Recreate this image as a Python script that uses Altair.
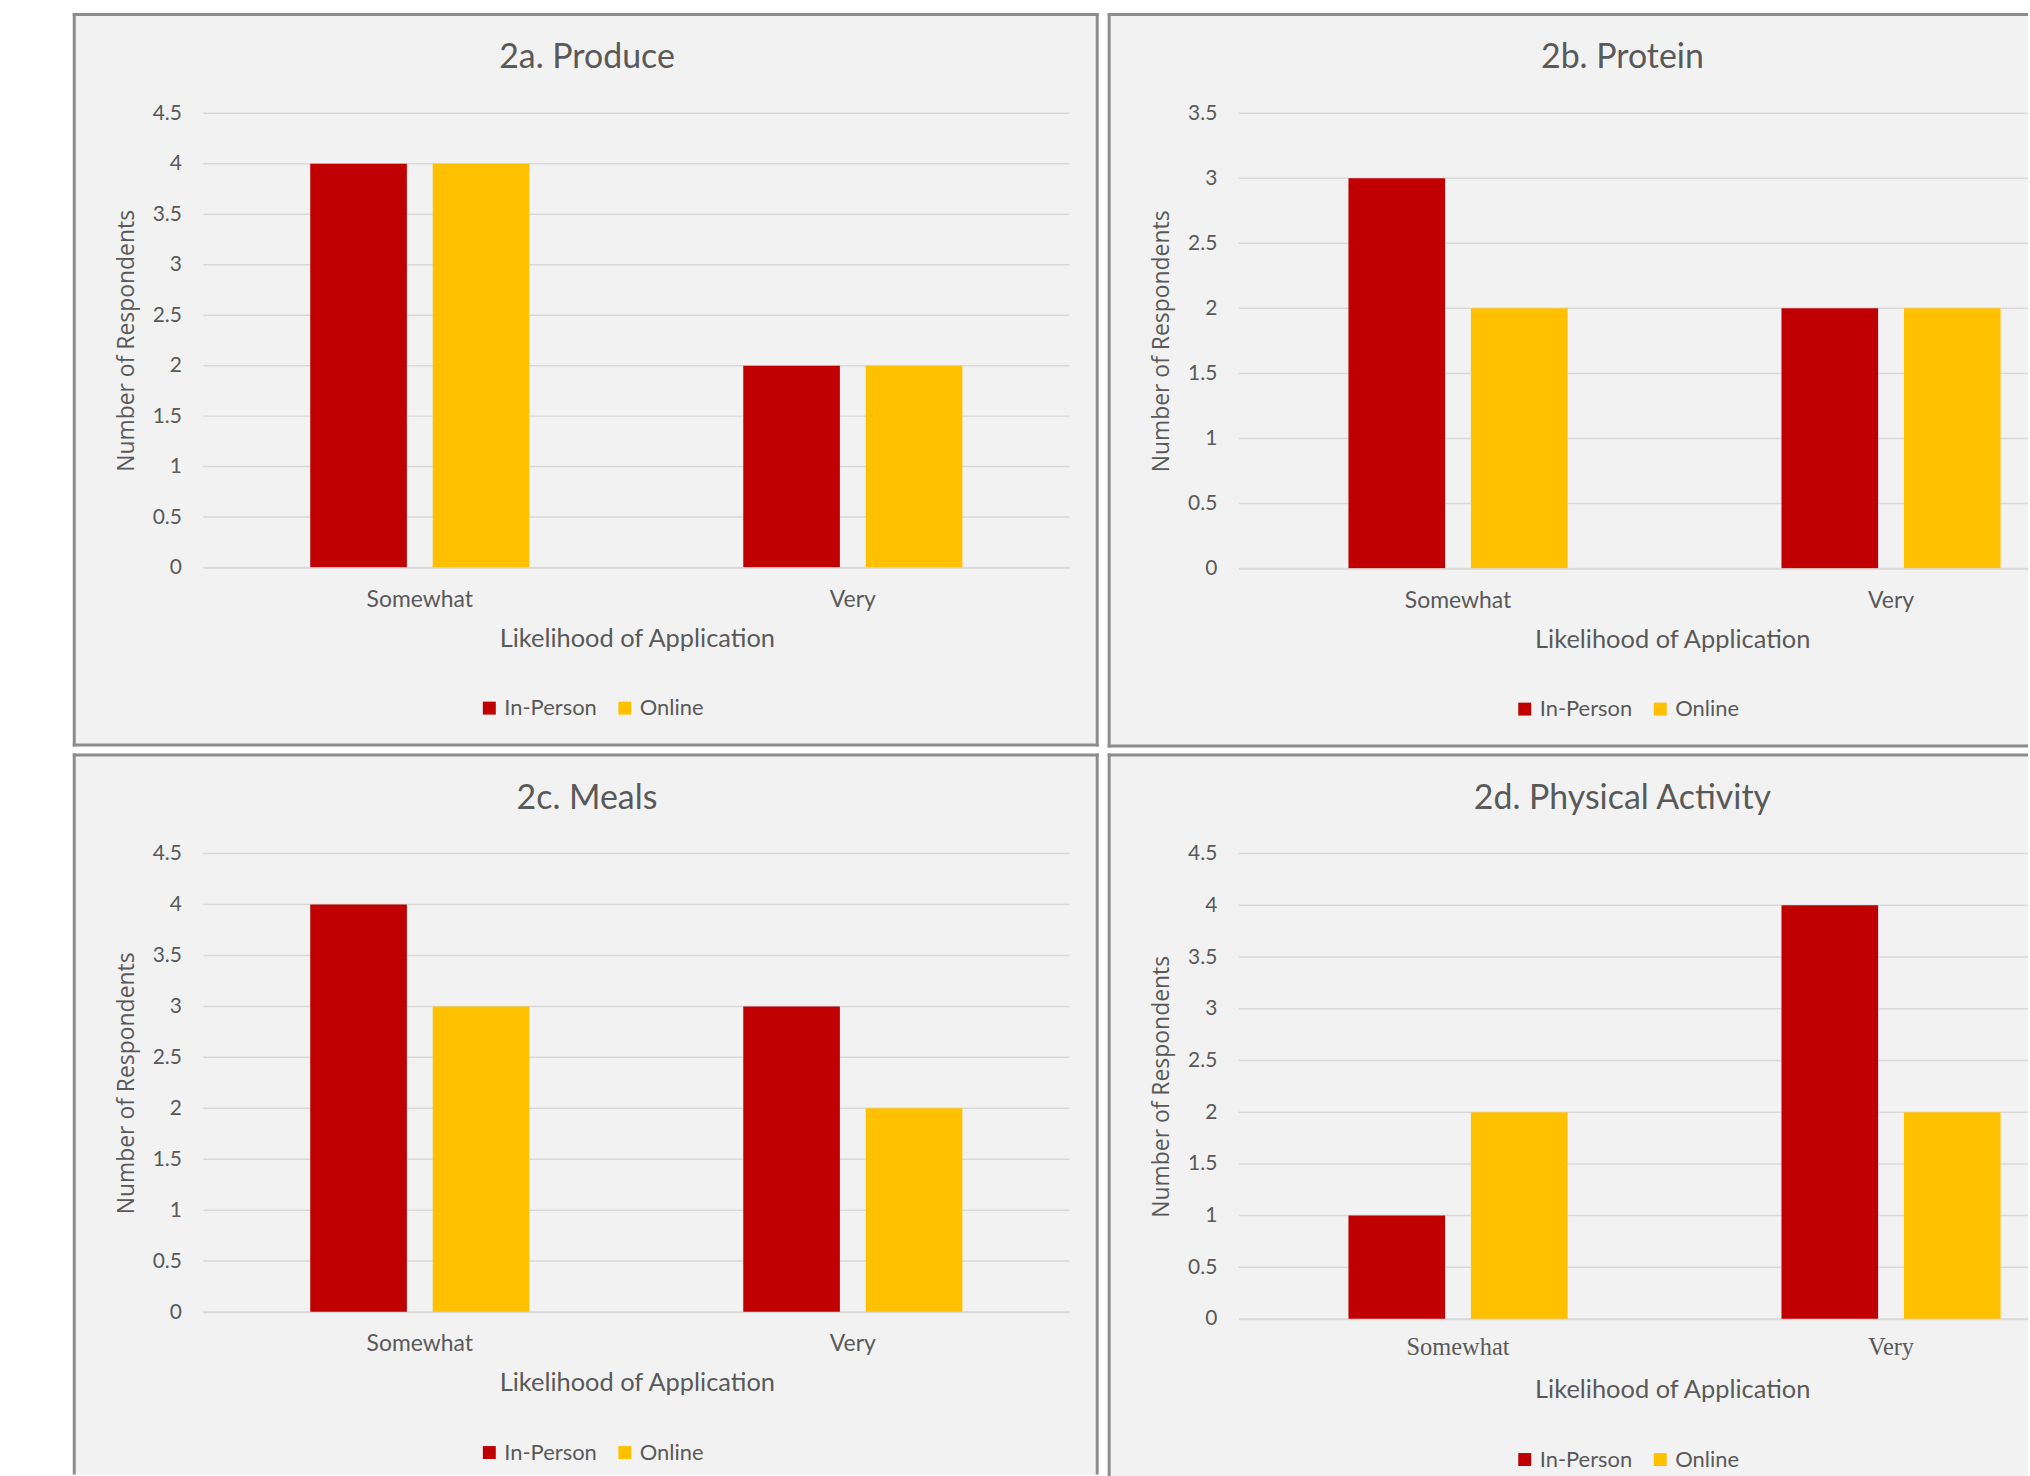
import altair as alt
import pandas as pd

categories = ["Somewhat", "Very"]
series = ["In-Person", "Online"]
panel_titles = ["2a. Produce", "2b. Protein", "2c. Meals", "2d. Physical Activity"]
in_person = [[4, 2], [3, 2], [4, 3], [1, 4]]
online = [[4, 2], [2, 2], [3, 2], [2, 2]]
y_max = [4.5, 3.5, 4.5, 4.5]
colors = ["#C00000", "#FFC000"]

TXT = "#595959"
FONT = "Lato"
BORDER = "#8c8c8c"
GRID = "#d9d9d9"


def panel(i, W, H, left_col, top_row, serif_labels=False):
    rows = []
    for c_i, cat in enumerate(categories):
        rows.append({"category": cat, "series": series[0], "value": in_person[i][c_i]})
        rows.append({"category": cat, "series": series[1], "value": online[i][c_i]})
    df = pd.DataFrame(rows)
    ticks = [k * 0.5 for k in range(int(y_max[i] / 0.5) + 1)]
    one = pd.DataFrame({"k": [0]})

    if left_col:
        L, R = -129.5, W + 28
        xscale = alt.Scale(paddingInner=0.494, paddingOuter=0.247)
    else:
        L, R = -130, W
        xscale = alt.Scale(paddingInner=0.494, paddingOuter=0.1584, align=0.80)
    T = -99
    B = H + 178 if top_row else H + 163

    layers = [
        alt.Chart(one).mark_rect(fill="#f2f2f2").encode(
            x=alt.value(L), x2=alt.value(R), y=alt.value(T), y2=alt.value(B))
    ]
    # borders
    lines = [(L, L, T - 1.5, B + (1.5 if top_row else 0)),
             (L - 1.5, R + (1.5 if left_col else 0), T, T)]
    if left_col:
        lines.append((R, R, T - 1.5, B + (1.5 if top_row else 0)))
    if top_row:
        lines.append((L - 1.5, R + (1.5 if left_col else 0), B, B))
    for (x1, x2, y1, y2) in lines:
        layers.append(alt.Chart(one).mark_rule(color=BORDER, strokeWidth=3).encode(
            x=alt.value(x1), x2=alt.value(x2), y=alt.value(y1), y2=alt.value(y2)))

    yscale = alt.Scale(domain=[0, y_max[i]], nice=False)
    grid = alt.Chart(pd.DataFrame({"value": ticks})).mark_rule(
        color=GRID, strokeWidth=1.5
    ).encode(
        x=alt.value(0), x2=alt.value(W),
        y=alt.Y("value:Q", scale=yscale,
                axis=alt.Axis(title="Number of Respondents", values=ticks, format="~g",
                              grid=False, zindex=1,
                              labelFont=FONT, labelFontSize=21, labelColor=TXT,
                              labelPadding=22, ticks=False, domain=False,
                              titleFont="Open Sans", titleFontSize=23,
                              titleColor=TXT, titleFontWeight="normal",
                              titleX=-77, titleY=H / 2, titleAngle=-90,
                              titleBaseline="middle", titleAlign="center")),
    )
    layers.append(grid)

    bars = alt.Chart(df).mark_bar().encode(
        x=alt.X("category:N", sort=categories, scale=xscale,
                axis=alt.Axis(title="Likelihood of Application", labelAngle=0,
                              labelFont="Liberation Serif" if serif_labels else FONT,
                              labelFontSize=24.5 if serif_labels else 23,
                              labelColor=TXT, labelPadding=17 if serif_labels else 21,
                              ticks=False,
                              domainColor=GRID, domainWidth=1.5, zindex=1,
                              titleFont=FONT, titleFontSize=25.5, titleColor=TXT,
                              titleFontWeight="normal", titleX=435, titleY=71,
                              titleBaseline="middle", titleAlign="center")),
        xOffset=alt.XOffset("series:N", sort=series,
                            scale=alt.Scale(paddingInner=0.211, paddingOuter=0)),
        y=alt.Y("value:Q", scale=yscale, title="Number of Respondents"),
        color=alt.Color("series:N", sort=series,
                        scale=alt.Scale(domain=series, range=colors),
                        legend=alt.Legend(title=None, orient="none", direction="horizontal",
                                          legendX=276, legendY=H + 130,
                                          symbolType="square", symbolSize=169,
                                          symbolStrokeWidth=0,
                                          labelFont=FONT, labelFontSize=22,
                                          labelColor=TXT, labelOffset=4,
                                          columnPadding=17, padding=0)),
    )
    layers.append(bars)

    title = alt.Chart(pd.DataFrame({"t": [panel_titles[i]]})).mark_text(
        font=FONT, fontSize=34, color=TXT, baseline="middle", align="center"
    ).encode(x=alt.value(385), y=alt.value(-55), text="t:N")
    layers.append(title)

    return alt.layer(*layers).properties(width=W, height=H)


top = alt.hconcat(
    panel(0, 869, 456, True, True),
    panel(1, 792, 457, False, True),
    spacing=6,
).resolve_scale(color="independent")
bottom = alt.hconcat(
    panel(2, 869, 460, True, False),
    panel(3, 792, 467, False, False, serif_labels=True),
    spacing=6,
).resolve_scale(color="independent")
chart = alt.vconcat(top, bottom, spacing=3).resolve_scale(color="independent").properties(
    padding={"left": 71, "top": 9, "right": 0, "bottom": 0},
    background="white",
).configure_view(stroke=None, fill=None)

chart.save("out.html", embed_options={"renderer": "svg", "actions": False})
